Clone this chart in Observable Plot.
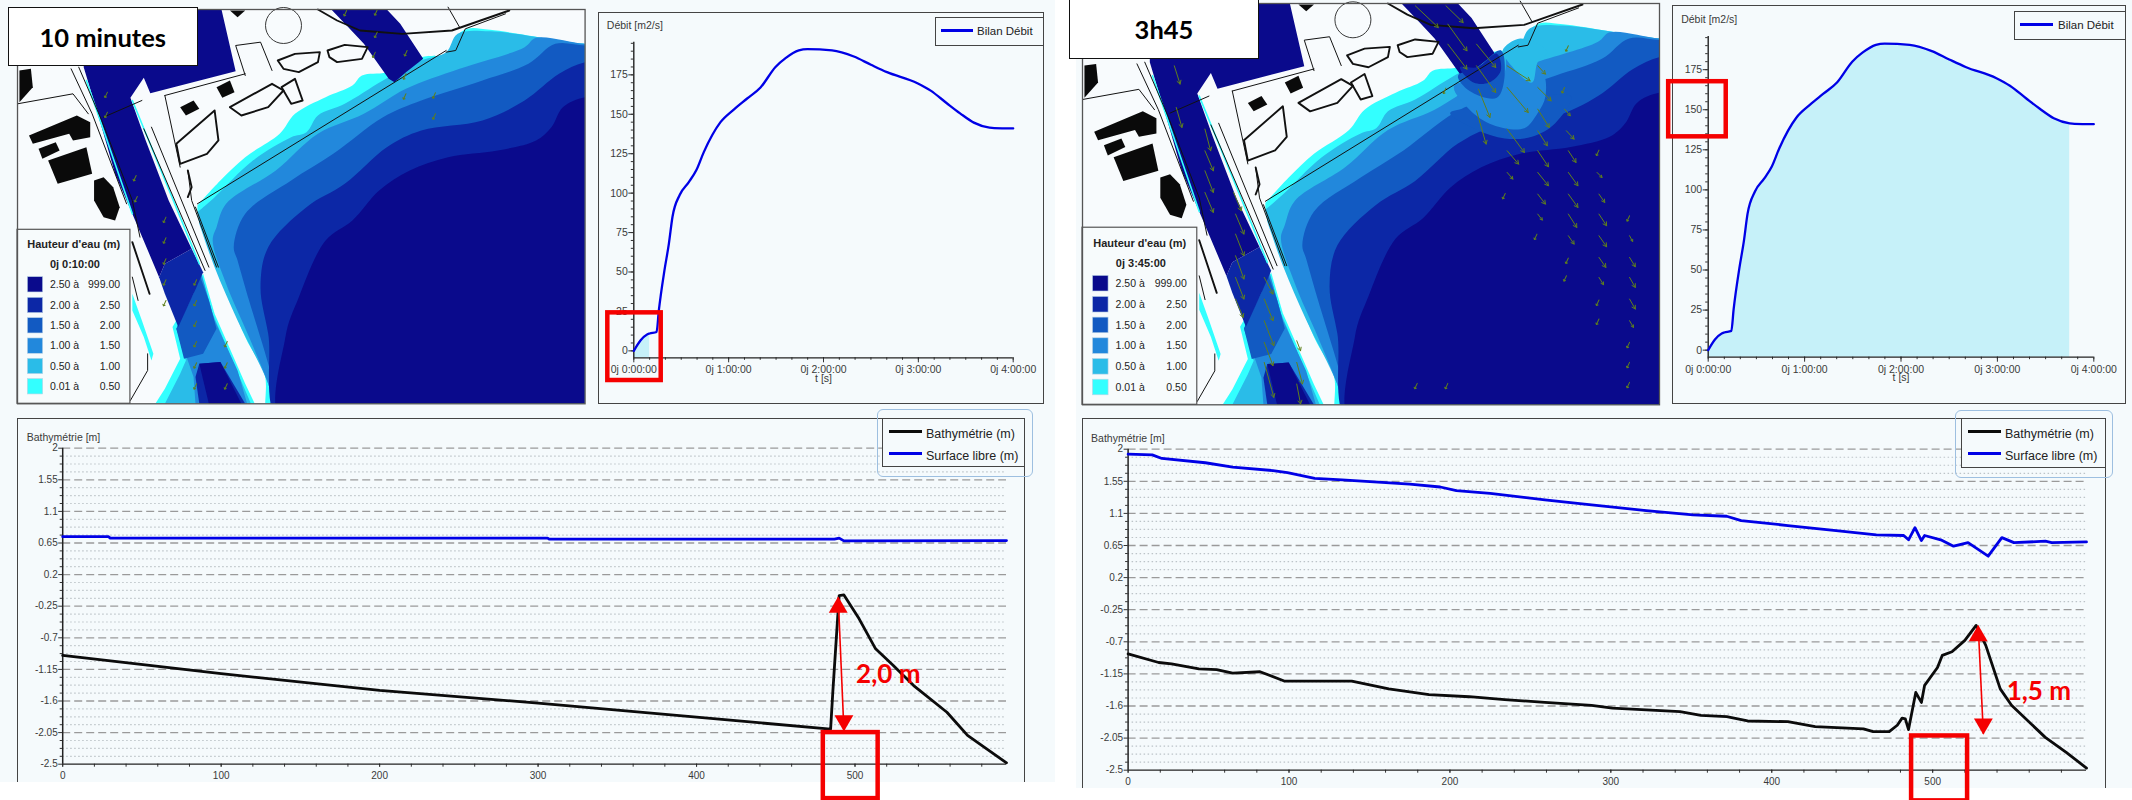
<!DOCTYPE html>
<html><head><meta charset="utf-8">
<script src="https://cdn.jsdelivr.net/npm/d3@7"></script>
<script src="https://cdn.jsdelivr.net/npm/@observablehq/plot@0.6"></script>
<style>
html,body{margin:0;padding:0;background:#fff}
#page{position:relative;width:2132px;height:800px;overflow:hidden;background:#fff;font-family:"Liberation Sans",Arial,sans-serif}
#page>svg{position:absolute;max-width:none;overflow:visible}
.bg,.frame,.leg,.halo,.title{position:absolute;box-sizing:border-box}
.bg{background:#f5fafc}
.frame{border:1.5px solid #444;}
.leg{border:1.5px solid #444;background:#f5fafc;color:#222}
.halo{border:1.5px solid #9dbfe0;border-radius:6px}
.leg i{position:absolute;height:3px;display:block}
.leg span{position:absolute;white-space:nowrap}
.title{background:#fff;border:1.5px solid #111;display:flex;align-items:center;justify-content:center;font:700 25.5px Lato,sans-serif;color:#000}
</style></head><body><div id="page"></div>
<script>
// ---------- debit hydrograph (shared by both snapshots)
const debitHours=[0,.07,.14,.167,.24,.264,.323,.37,.408,.485,.58,.66,.738,.914,1.054,1.195,1.336,1.494,1.6,1.74,1.83,2.09,2.32,2.5,2.67,2.99,3.13,3.3,3.44,3.585,3.75,3.8,4];
const debitValues=[0,6.6,10.4,11,12,25.6,51,68,85,99,107,114.6,126,145,153,160,167,180,185.6,190.5,191.3,190.5,186.6,181.4,176.7,169.7,165,157,150.6,144.7,141.5,141.2,141];
const debitTicks=[0,25,50,75,100,125,150,175];
const debitMinor=[0,5,10,15,20,25,30,35,40,45,50,55,60,65,70,75,80,85,90,95,100,105,110,115,120,125,130,135,140,145,150,155,160,165,170,175,180,185,190,195];
const hourTicks=[0,1,2,3,4];
const hourLabels=["0j 0:00:00","0j 1:00:00","0j 2:00:00","0j 3:00:00","0j 4:00:00"];
const hourMinor=[0,.167,.333,.5,.667,.833,1,1.167,1.333,1.5,1.667,1.833,2,2.167,2.333,2.5,2.667,2.833,3,3.167,3.333,3.5,3.667,3.833,4];
// ---------- longitudinal profiles, 10 minutes
const bathy10Dist=[0,100,200,300,400,484.6,486,489,490,493,502.6,513,524,537,558,571,595.6];
const bathy10Val=[-.95,-1.21,-1.45,-1.63,-1.83,-2,-1.47,-.43,-.1,-.09,-.43,-.857,-1.09,-1.38,-1.76,-2.09,-2.48];
const surf10Dist=[0,29,30,306,307,487,490,493,595.6];
const surf10Val=[.74,.74,.72,.72,.705,.705,.72,.68,.685];
// ---------- longitudinal profiles, 3h45
const bathy345Dist=[0,19,27,44,55,65,82,97,139,162,187,212,234,259,288,301,343,356,372,385,410,427,457,463,473,478,481,483,485,489.5,493,495,503,506,512,520,527,533,542,549,570,583,595.6];
const bathy345Val=[-.87,-.99,-1.01,-1.08,-1.09,-1.14,-1.12,-1.25,-1.25,-1.36,-1.44,-1.47,-1.51,-1.55,-1.59,-1.63,-1.68,-1.73,-1.75,-1.81,-1.82,-1.89,-1.92,-1.96,-1.96,-1.87,-1.77,-1.78,-1.93,-1.41,-1.55,-1.31,-1.06,-.89,-.84,-.68,-.47,-.75,-1.36,-1.59,-2.04,-2.25,-2.47];
const surf345Dist=[0,15,21,48,65,90,99,116,133,175,194,204,225,259,288,322,351,372,381,410,440,465,482,485,489,493,495,505,513,522,534.5,543,550.5,570,574,595.6];
const surf345Val=[1.93,1.92,1.87,1.81,1.75,1.70,1.67,1.59,1.57,1.51,1.47,1.42,1.38,1.29,1.22,1.14,1.08,1.06,1,.93,.86,.80,.79,.73,.90,.72,.79,.73,.64,.69,.5,.76,.69,.71,.69,.7];
const profileTicks=[2,1.55,1.1,.65,.2,-.25,-.7,-1.15,-1.6,-2.05,-2.5];
const profileMinor=[1.8875,1.775,1.6625,1.4375,1.325,1.2125,.9875,.875,.7625,.5375,.425,.3125,.0875,-.025,-.1375,-.3625,-.475,-.5875,-.8125,-.925,-1.0375,-1.2625,-1.375,-1.4875,-1.7125,-1.825,-1.9375,-2.1625,-2.275,-2.3875];
const distTicks=[0,100,200,300,400,500];
const distMinor=[0,20,40,60,80,100,120,140,160,180,200,220,240,260,280,300,320,340,360,380,400,420,440,460,480,500,520,540,560,580];
// ---------- map legend
const bandLow=["2.50 à","2.00 à","1.50 à","1.00 à","0.50 à","0.01 à"];
const bandHigh=["999.00","2.50","2.00","1.50","1.00","0.50"];
const bandColor=["#0a0a8c","#0c27a6","#125ac2","#2288dc","#2abce8","#33ffff"];
const bandRow=[853,915,976,1037,1098,1159];
// ---------- map water bands (map units), shallow to deep
const seaBands=[
 [[515,615],[575,540],[640,470],[730,400],[770,340],[850,290],[920,255],[945,225],[1010,215],[1100,170],[1165,160],[1190,110],[1220,85],[1280,88],[1528,130],[1600,130],[1600,1300],[715,1300],[690,1120],[640,1010],[570,800],[515,640]],
 [[515,635],[560,590],[660,480],[760,410],[800,395],[830,345],[900,310],[1000,240],[1100,180],[1165,155],[1195,100],[1280,92],[1528,130],[1600,130],[1600,1300],[740,1300],[700,1150],[620,960],[560,800],[520,670]],
 [[1600,130],[1528,130],[1400,112],[1370,140],[1200,205],[1060,265],[950,340],[830,400],[720,510],[590,610],[565,680],[555,720],[590,850],[650,1010],[700,1150],[745,1300],[1600,1300]],
 [[1600,135],[1528,135],[1450,130],[1380,190],[1260,240],[1100,300],[1000,350],[870,460],[760,540],[640,640],[610,740],[620,780],[650,900],[690,1050],[715,1150],[750,1300],[1600,1300]],
 [[1600,185],[1528,185],[1460,220],[1370,300],[1260,360],[1100,390],[1010,440],[900,550],[800,620],[700,740],[680,860],[700,1000],[745,1300],[1600,1300]],
 [[1600,290],[1528,290],[1470,320],[1440,380],[1400,420],[1300,450],[1170,470],[1070,510],[990,570],[920,660],[850,720],[780,890],[745,1010],[745,1300],[1600,1300]]
];
const seaColors=["#33ffff","#2abce8","#2288dc","#125ac2","#0c27a6","#0a0a8c"];
const channelShapes=[
 [[530,820],[560,940],[640,1150],[665,1210],[405,1210],[430,1165],[470,1075],[450,980]],
 [[525,815],[555,940],[625,1130],[655,1210],[430,1210],[470,1120],[485,1080],[460,985]],
 [[520,800],[560,960],[620,1110],[645,1210],[510,1210],[505,1130],[490,1080],[460,985],[505,880]],
 [[510,790],[545,900],[565,985],[530,1060],[480,1075],[460,985],[505,880]],
 [[510,1130],[520,1090],[575,1085],[640,1210],[520,1210]],
 [[500,745],[530,815],[505,880],[465,980],[430,880],[415,830],[430,790]],
 [[520,1090],[575,1085],[630,1210],[545,1210]],
 [[218,200],[218,27],[578,27],[615,212],[392,278],[375,232],[340,292],[380,420],[440,600],[500,745],[430,790],[415,830],[345,640],[300,520],[265,380]],
 [[865,27],[1010,27],[1045,70],[1105,175],[1060,215],[1030,245],[1015,235],[950,130],[905,75]],
 [[345,880],[370,960],[400,1060],[395,1080],[375,1010],[345,930]]
];
const channelColors=["#33ffff","#2abce8","#2288dc","#125ac2","#0c27a6","#0c27a6","#0a0a8c","#0a0a8c","#0a0a8c","#33ffff"];
// extra plume shapes seen only at 3h45
const plumeShapes=[
 [[990,350],[1060,400],[1130,425],[1200,420],[1260,380],[1300,300],[1100,330]],
 [[1000,270],[1040,340],[1100,385],[1180,395],[1215,350],[1235,300],[1225,220],[1140,170],[1125,240]],
 [[1125,165],[1140,200],[1200,260],[1215,200],[1240,170],[1170,130]],
 [[1010,240],[1040,285],[1110,305],[1130,240],[1120,165],[1060,215]],
 [[1015,215],[1050,260],[1090,260],[1120,225],[1110,175],[1060,215]]
];
const plumeColors=["#125ac2","#2288dc","#2abce8","#125ac2","#0c27a6"];
// land sketch
const landBlocks=[
 [[50,210],[80,205],[85,260],[50,305]],
 [[75,405],[200,345],[235,365],[235,410],[190,420],[180,400],[85,430]],
 [[100,445],[145,425],[155,450],[110,475]],
 [[125,480],[225,440],[240,520],[150,550]],
 [[245,540],[270,530],[295,560],[312,620],[300,660],[270,650],[245,600]],
 [[470,320],[505,300],[520,325],[485,345]],
 [[565,260],[600,240],[612,275],[580,292]],
 [[600,30],[640,30],[620,50]]
];
const landLines=[
 [[515,610],[1165,150]],
 [[830,27],[880,60],[940,90],[1050,100],[1180,90],[1330,30]],
 [[1165,155],[1190,150],[1215,85],[1320,40]],
 [[205,200],[265,360],[345,600],[365,710]],
 [[185,205],[240,340],[330,610]],
 [[375,385],[535,810]],
 [[395,380],[545,800]],
 [[490,510],[500,600],[565,800]],
 [[510,620],[570,800]],
 [[45,310],[190,280],[230,340]],
 [[640,225],[615,135],[680,125],[710,210]],
 [[430,285],[640,220]],
 [[430,285],[470,500]],
 [[725,180],[770,160],[835,155],[830,185],[780,215],[740,205],[725,180]],
 [[855,150],[900,133],[960,140],[945,175],[880,185],[860,170],[855,150]],
 [[600,320],[710,250],[740,270],[700,320],[630,345],[600,320]],
 [[735,260],[770,235],[790,300],[760,310],[735,260]],
 [[460,430],[560,330],[570,420],[540,460],[470,490],[460,430]],
 [[490,510],[500,560],[490,590]],
 [[345,725],[390,880]],
 [[345,830],[360,900]],
 [[385,1060],[385,1110],[340,1200]],
 [[270,350],[370,300]],
 [[1170,20],[1200,80]]
];
const heavyLines=new Set([1,13,14,15,16,17,18,19]);
const harbourCircle=[[740,75]];
// velocity marks
const ticks10=[[905,30],[985,28],[985,95],[980,155],[1063,150],[1060,220],[1060,280],[1137,277],[1137,340],[280,275],[280,335],[355,525],[358,588],[433,650],[433,712],[433,775],[433,838],[433,900],[513,838],[513,900],[513,962],[513,1023],[593,1023],[513,1087],[593,1087],[513,1150],[593,1150]];
const arrows345=[[270,195,285,250],[275,320,290,380],[350,385,365,450],[350,450,372,510],[350,510,372,575],[350,575,372,635],[425,575,445,630],[430,640,452,700],[430,700,452,765],[430,765,452,835],[430,830,452,895],[430,895,450,950],[505,830,528,880],[505,895,528,960],[505,960,530,1035],[505,1025,528,1095],[505,1085,530,1190],[590,1020,600,1050],[590,1085,605,1150],[590,1150,600,1210],[900,15,960,80],[980,15,1025,65],[985,70,1035,150],[985,130,1035,205],[1060,130,1110,200],[1060,195,1110,275],[1140,195,1200,240],[1220,195,1240,220],[1140,260,1195,335],[1220,260,1255,300],[1065,265,1095,350],[1060,330,1085,430],[1220,325,1250,380],[1290,325,1305,345],[1140,385,1185,455],[1220,390,1245,435],[1295,390,1315,415],[1140,450,1170,490],[1220,450,1248,498],[1300,450,1320,485],[1140,515,1155,535],[1220,515,1248,555],[1300,515,1325,555],[1375,515,1388,530],[1220,580,1240,610],[1300,580,1325,620],[1380,580,1395,605],[1220,640,1232,658],[1300,640,1322,680],[1380,640,1400,675],[1300,705,1315,730],[1380,705,1400,738],[1460,705,1468,722],[1380,770,1398,800],[1460,770,1475,798],[1380,830,1392,852],[1460,830,1475,860],[1460,895,1475,925],[1460,960,1470,980]];
const ticks345=[[1290,260],[1300,135],[980,262],[1380,448],[1135,578],[1460,645],[1218,700],[1300,772],[1295,825],[1380,898],[1380,955],[1460,1025],[1460,1085],[1460,1145],[905,1148],[985,1148]];

const page=document.getElementById("page");
const font='"Liberation Sans",Arial,sans-serif';
const RED="#f50000",BLUE="#0000e6",BLACK="#0b0b0b",OLIVE="#5f7f1c",INK="#3a3a3a";
function box(cls,x,y,w,h,html){const d=document.createElement("div");d.className=cls;d.style.cssText=`left:${x}px;top:${y}px;width:${w}px;height:${h}px`;if(html)d.innerHTML=html;page.appendChild(d);return d;}
function put(svg,x,y){svg.style.left=x+"px";svg.style.top=y+"px";page.appendChild(svg);}
function table(xs,vs){return xs.map((x,i)=>({x,v:vs[i]}));}

// ---------- backgrounds and frames
box("bg",0,0,1055,782);box("bg",1076,0,1056,788);
box("frame",598.3,11.7,446,392);box("frame",1671.7,5,454,399);
box("frame",17,417.7,1008,400);box("frame",1081.5,417.7,1024.5,400);
box("bg",0,782,1055,18).style.background="#fff";box("bg",1076,788,1056,12).style.background="#fff";

// ---------- debit chart
function debitChart(o){
  const rows=table(debitHours,debitValues);
  return Plot.plot({width:o.w,height:405,marginLeft:o.ml,marginRight:o.mr,marginTop:o.mt,marginBottom:o.mb,
    style:{background:"transparent",fontFamily:font,fontSize:"10.5px"},
    x:{domain:[0,4]},y:{domain:[-4.4,195.7]},
    marks:[
      Plot.areaY(rows.filter(d=>d.x<=o.until),{x:"x",y1:-4.4,y2:"v",fill:"#c6f1f9",curve:"monotone-x"}),
      Plot.axisY({ticks:debitMinor,tickSize:2.5,tickFormat:()=>"",label:null,stroke:"#333"}),
      Plot.axisY({ticks:debitTicks,tickSize:5,tickPadding:1,label:null,stroke:"#333",fill:INK}),
      Plot.axisX({ticks:hourMinor,tickSize:2.5,tickFormat:()=>"",label:null,stroke:"#333"}),
      Plot.axisX({ticks:hourTicks,tickSize:5,tickPadding:3,label:null,stroke:"#333",fill:INK,tickFormat:d=>hourLabels[hourTicks.indexOf(d)]}),
      Plot.ruleX([0],{y1:-4.4,y2:195.7,stroke:"#222",strokeWidth:1.4}),
      Plot.ruleY([-4.4],{stroke:"#222",strokeWidth:1.2}),
      Plot.text(["Débit [m2/s]"],{frameAnchor:"top-left",dx:o.lx,dy:o.ly,textAnchor:"start",fontSize:10.5,fill:INK}),
      Plot.text(["t [s]"],{frameAnchor:"bottom",dy:24,fontSize:10.5,fill:INK}),
      Plot.line(rows,{x:"x",y:"v",stroke:BLUE,strokeWidth:2.3,curve:"monotone-x"}),
      Plot.rect([o.red],{x1:"x1",x2:"x2",y1:"y1",y2:"y2",fill:"none",stroke:RED,strokeWidth:4.5})
    ]});
}
put(debitChart({w:465,ml:43.3,mr:42.3,mt:41.7,mb:47.7,lx:-27,ly:-21,until:.167,red:{x1:-.274,x2:.289,y1:-18.8,y2:24.1}}),590,0);
put(debitChart({w:472,ml:47.7,mr:38.7,mt:36,mb:48.3,lx:-27,ly:-21,until:3.75,red:{x1:-.41,x2:.187,y1:133.1,y2:167.5}}),1660,0);

// ---------- profile chart
function profileChart(o){
  const b=table(o.bx,o.bv),s=table(o.sx,o.sv);
  return Plot.plot({width:o.w,height:395,marginLeft:o.ml,marginRight:o.mr,marginTop:o.mt,marginBottom:o.mb,
    style:{background:"transparent",fontFamily:font,fontSize:"10px"},
    x:{domain:[0,595.6]},y:{domain:[-2.5,2]},
    marks:[
      Plot.ruleY(profileMinor,{stroke:"#bcc4c8",strokeWidth:1.2,strokeDasharray:"1.5,2.5"}),
      Plot.ruleY(profileTicks.filter(d=>d>-2.5),{stroke:"#9a9a9a",strokeWidth:1.3,strokeDasharray:"8,4"}),
      Plot.axisY({ticks:profileMinor,tickSize:2.5,tickFormat:()=>"",label:null,stroke:"#333"}),
      Plot.axisY({ticks:profileTicks,tickSize:4,tickPadding:1,label:null,stroke:"#333",fill:INK,tickFormat:d=>String(d)}),
      Plot.axisX({ticks:distMinor,tickSize:3,tickFormat:()=>"",label:null,stroke:"#333"}),
      Plot.axisX({ticks:distTicks,tickSize:3,tickPadding:5,label:null,stroke:"#333",fill:INK}),
      Plot.ruleX([0],{stroke:"#222",strokeWidth:1.5}),
      Plot.ruleY([-2.5],{stroke:"#222",strokeWidth:1.2}),
      Plot.text(["Bathymétrie [m]"],{frameAnchor:"top-left",dx:o.lx,dy:-15,textAnchor:"start",fontSize:10.5,fill:INK}),
      Plot.line(s,{x:"x",y:"v",stroke:BLUE,strokeWidth:2.8}),
      Plot.line(b,{x:"x",y:"v",stroke:BLACK,strokeWidth:2.8}),
      Plot.rect([o.red],{x1:"x1",x2:"x2",y1:"y1",y2:"y2",fill:"none",stroke:RED,strokeWidth:4.5}),
      Plot.link([o.arrow],{x1:"x1",y1:"y1",x2:"x2",y2:"y2",stroke:RED,strokeWidth:1.6}),
      Plot.dot([o.arrow],{x:"x1",y:d=>d.y1-.14,symbol:"triangle",r:7,fill:RED,stroke:"none"}),
      Plot.dot([o.arrow],{x:"x2",y:d=>d.y2+.14,symbol:"triangle",r:7,rotate:180,fill:RED,stroke:"none"}),
      Plot.text([o.note],{x:o.nx,y:o.ny,fontFamily:"Lato,sans-serif",fontWeight:700,fontSize:26,fill:RED})
    ]});
}
put(profileChart({w:1055,ml:62.2,mr:49,mt:42.7,mb:36.3,lx:-36,bx:bathy10Dist,bv:bathy10Val,sx:surf10Dist,sv:surf10Val,
  red:{x1:480,x2:514.6,y1:-2.99,y2:-2.05},arrow:{x1:489.4,y1:-.127,x2:493,y2:-2.02},note:"2,0 m",nx:521,ny:-1.22}),0,405);
put(profileChart({w:1056,ml:51.6,mr:46,mt:43.7,mb:30.3,lx:-37,bx:bathy345Dist,bv:bathy345Val,sx:surf345Dist,sv:surf345Val,
  red:{x1:486.9,x2:521.7,y1:-2.93,y2:-2.02},arrow:{x1:528.3,y1:-.476,x2:531.5,y2:-1.99},note:"1,5 m",nx:566,ny:-1.4}),1076,405);

// ---------- chart legends
function legend(cls,x,y,w,h,items){
  const html=items.map(i=>`<i style="left:${i.sx}px;top:${i.sy}px;width:${i.sw}px;background:${i.c}"></i><span style="left:${i.tx}px;top:${i.ty}px;font-size:${i.fs}px">${i.t}</span>`).join("");
  box(cls,x,y,w,h,html);
}
legend("leg",935,17,109,29,[{sx:5,sy:11,sw:32,c:BLUE,tx:41,ty:7,fs:11.5,t:"Bilan Débit"}]);
legend("leg",2014,10.7,111.7,29.5,[{sx:5,sy:11,sw:33,c:BLUE,tx:43,ty:7,fs:11.5,t:"Bilan Débit"}]);
legend("leg",882,417.7,143,49.5,[{sx:6,sy:11,sw:33,c:BLACK,tx:43,ty:8,fs:12.5,t:"Bathymétrie (m)"},{sx:6,sy:33,sw:33,c:BLUE,tx:43,ty:30,fs:12.5,t:"Surface libre (m)"}]);
legend("leg",1961,418,145,50,[{sx:6,sy:11,sw:33,c:BLACK,tx:43,ty:8,fs:12.5,t:"Bathymétrie (m)"},{sx:6,sy:33,sw:33,c:BLUE,tx:43,ty:30,fs:12.5,t:"Surface libre (m)"}]);
box("halo",877,409,156,68);box("halo",1954.5,409.7,158.5,68);

// ---------- maps
function poly(pts,fill,curve="linear"){return Plot.line(pts,{x:d=>d[0],y:d=>d[1],fill,stroke:"none",curve,clip:true});}
function sketch(pts,w,s="#111"){return Plot.line(pts,{x:d=>d[0],y:d=>d[1],stroke:s,strokeWidth:w,fill:"none"});}
function mapChart(o){
  const rows=bandRow.map((y,i)=>({y,low:bandLow[i],high:bandHigh[i],c:bandColor[i]}));
  return Plot.plot({width:o.w,height:o.h,margin:0,
    style:{background:"transparent",fontFamily:font},
    x:{domain:[45,1528],axis:null},y:{domain:[1210,27],axis:null},
    marks:[
      Plot.frame({fill:"#f8fbfd"}),
      ...seaBands.map((p,i)=>poly(p,seaColors[i],"catmull-rom")),
      ...channelShapes.map((p,i)=>poly(p,channelColors[i])),
      ...(o.plume?plumeShapes.map((p,i)=>poly(p,plumeColors[i],"catmull-rom-closed")):[]),
      sketch([[225,240],[345,640]],1.6,"#33ffff"),sketch([[345,300],[520,790]],1.6,"#33ffff"),
      ...landBlocks.map(p=>poly(p,"#0a0a0a")),
      ...landLines.map((p,i)=>sketch(p,heavyLines.has(i)?1.9:1)),
      Plot.dot(harbourCircle,{x:d=>d[0],y:d=>d[1],r:18,stroke:"#222",strokeWidth:.9}),
      Plot.vector(o.ticks,{x:d=>d[0],y:d=>d[1],length:6,rotate:205,stroke:OLIVE,strokeWidth:1,anchor:"start"}),
      ...(o.arrows?[Plot.arrow(o.arrows,{x1:d=>d[0],y1:d=>d[1],x2:d=>d[2],y2:d=>d[3],stroke:OLIVE,strokeWidth:1,headLength:6})]:[]),
      // legend
      Plot.rect([0],{x1:45,x2:340,y1:688,y2:1210,fill:"#f7fbfc",stroke:"#555",strokeWidth:1.2}),
      Plot.text(["Hauteur d'eau (m)"],{x:192,y:733,fontWeight:700,fontSize:11,fill:"#222"}),
      Plot.text([o.stamp],{x:195,y:793,fontWeight:700,fontSize:11,fill:"#222"}),
      Plot.rect(rows,{x1:72,x2:112,y1:d=>d.y-23,y2:d=>d.y+23,fill:"c",stroke:"#b9d3e6",strokeWidth:.6}),
      Plot.text(rows,{x:130,y:"y",text:"low",textAnchor:"start",fontSize:10.5,fill:"#222"}),
      Plot.text(rows,{x:313,y:"y",text:"high",textAnchor:"end",fontSize:10.5,fill:"#222"}),
      Plot.frame({stroke:"#555",strokeWidth:1.3})
    ]});
}
const to345=([x,y])=>[45+(x-30)/1.017,27+(y-8)/1.018];
const arrowsMapped=arrows345.map(a=>[...to345([a[0],a[1]]),...to345([a[2],a[3]])]);
put(mapChart({w:567.6,h:394.3,ticks:ticks10,stamp:"0j 0:10:00"}),17.2,9);
put(mapChart({w:577,h:401.3,ticks:ticks345.map(to345),arrows:arrowsMapped,plume:true,stamp:"0j 3:45:00"}),1081.5,2.7);

// ---------- snapshot titles
box("title",7.6,7.3,190.4,58.7,"10 minutes");
box("title",1069,-1,190,60,"3h45");
</script></body></html>
